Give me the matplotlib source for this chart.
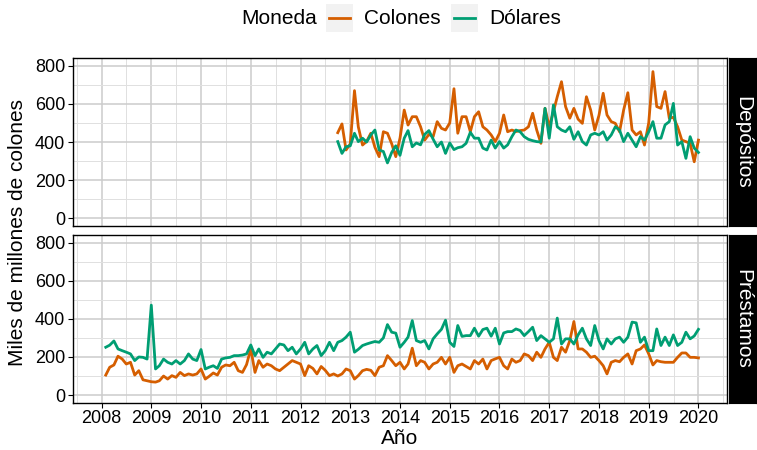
import numpy as np
import pandas as pd
import matplotlib
matplotlib.use("Agg")
import matplotlib.pyplot as plt
from matplotlib.patches import Rectangle
from matplotlib.lines import Line2D

plt.rcParams['font.family'] = ['Liberation Sans', 'DejaVu Sans']

# Datos mensuales (miles de millones de colones)
prestamos_colones = [
    105, 146, 158, 204, 189, 163, 172, 105, 128, 80,
    75, 70, 68, 75, 100, 84, 102, 93, 119, 102,
    111, 105, 111, 137, 84, 98, 116, 105, 146, 158,
    154, 172, 128, 119, 160, 242, 119, 181, 146, 163,
    154, 137, 128, 146, 163, 181, 172, 163, 102, 154,
    140, 111, 150, 130, 102, 111, 100, 111, 137, 128,
    84, 102, 128, 135, 130, 102, 146, 154, 207, 181,
    154, 172, 137, 163, 246, 154, 181, 172, 137, 163,
    172, 198, 163, 198, 119, 154, 163, 150, 137, 181,
    163, 189, 137, 181, 190, 198, 154, 137, 189, 172,
    181, 216, 207, 181, 225, 198, 242, 277, 198, 181,
    251, 225, 286, 386, 242, 242, 225, 198, 204, 181,
    154, 111, 172, 181, 175, 198, 216, 163, 233, 242,
    263, 216, 158, 181, 175, 172, 172, 172, 198, 221,
    221, 198, 198, 195]
prestamos_dolares = [
    251, 262, 284, 242, 233, 225, 216, 181, 200, 198,
    189, 472, 137, 154, 189, 172, 163, 181, 163, 181,
    216, 189, 181, 239, 137, 146, 154, 140, 189, 195,
    198, 207, 207, 210, 216, 263, 207, 242, 198, 225,
    216, 242, 268, 263, 233, 251, 216, 242, 277, 216,
    242, 260, 207, 233, 277, 233, 277, 286, 304, 330,
    225, 240, 260, 268, 275, 281, 277, 300, 370, 330,
    325, 251, 277, 304, 391, 286, 277, 286, 242, 295,
    321, 345, 393, 277, 255, 365, 308, 312, 312, 351,
    309, 344, 351, 309, 351, 268, 326, 333, 333, 347,
    339, 312, 333, 356, 286, 312, 295, 277, 295, 404,
    268, 295, 295, 268, 316, 351, 295, 260, 365, 286,
    242, 295, 268, 295, 304, 277, 304, 383, 379, 277,
    304, 233, 233, 347, 260, 304, 260, 316, 260, 277,
    330, 295, 310, 345]
depositos_colones = [
    449, 495, 358, 390, 670, 480, 384, 403, 446, 372,
    323, 454, 446, 391, 323, 420, 568, 489, 533, 533,
    480, 410, 440, 428, 507, 472, 463, 500, 680, 446,
    533, 533, 454, 533, 559, 480, 463, 437, 402, 446,
    542, 454, 463, 455, 460, 463, 480, 551, 463, 393,
    577, 480, 560, 638, 717, 586, 525, 577, 520, 498,
    638, 568, 463, 540, 656, 542, 507, 498, 454, 568,
    659, 463, 437, 454, 384, 500, 770, 586, 577, 665,
    525, 530, 480, 410, 402, 393, 296, 410]
depositos_dolares = [
    402, 340, 375, 380, 446, 402, 420, 400, 437, 463,
    358, 350, 290, 345, 380, 330, 420, 460, 375, 395,
    385, 440, 460, 415, 375, 400, 340, 395, 360, 370,
    375, 393, 451, 420, 420, 368, 358, 410, 368, 402,
    368, 385, 428, 463, 454, 428, 414, 407, 402, 400,
    577, 420, 595, 480, 463, 454, 480, 414, 454, 402,
    384, 437, 446, 437, 454, 410, 437, 480, 463, 402,
    446, 410, 375, 428, 410, 454, 507, 420, 420, 490,
    507, 603, 384, 402, 314, 428, 368, 345]

meses_prestamos = pd.date_range('2008-01-31', periods=len(prestamos_colones), freq='ME')
meses_depositos = pd.date_range('2012-09-30', periods=len(depositos_colones), freq='ME')


def a_decimal(fechas):
    dias = 365 + fechas.is_leap_year.astype(int)
    return np.asarray(fechas.year + fechas.dayofyear / dias)


col_colones = '#D55E00'
col_dolares = '#009E73'

fig = plt.figure(figsize=(7.57, 4.5), dpi=100)
W, H = 757, 450
x0, x1 = 72.7, 727.3
paneles = [(58.3, 225.7, 'Depósitos', meses_depositos, depositos_colones, depositos_dolares),
           (235.0, 402.7, 'Préstamos', meses_prestamos, prestamos_colones, prestamos_dolares)]

axes = []
for top, bot, nombre, meses, colones, dolares in paneles:
    ax = fig.add_axes([x0 / W, 1 - bot / H, (x1 - x0) / W, (bot - top) / H])
    xs = a_decimal(meses)
    ax.plot(xs, colones, color=col_colones, lw=2.0, solid_joinstyle='round')
    ax.plot(xs, dolares, color=col_dolares, lw=2.0, solid_joinstyle='round')
    ax.set_xlim(2007.42, 2020.58)
    ax.set_ylim(-40, 840)
    ax.set_yticks(range(0, 801, 200))
    ax.set_yticks(range(100, 800, 200), minor=True)
    ax.set_xticks(range(2008, 2021))
    ax.set_xticks(np.arange(2007.5, 2020.6, 1), minor=True)
    ax.grid(which='major', color='#cccccc', lw=1.1)
    ax.grid(which='minor', color='#e0e0e0', lw=0.7)
    ax.set_axisbelow(True)
    ax.tick_params(which='minor', length=0)
    ax.tick_params(which='major', length=3.5, width=0.8, color='black',
                   labelsize=13, labelcolor='black', pad=2)
    for s in ax.spines.values():
        s.set_color('black')
        s.set_linewidth(1.0)
    # tira de faceta
    sx = fig.add_axes([729 / W, 1 - bot / H, (756 - 729) / W, (bot - top) / H])
    sx.set_facecolor('black')
    sx.set_xticks([])
    sx.set_yticks([])
    for s in sx.spines.values():
        s.set_color('black')
    sx.text(0.5, 0.5, nombre, rotation=-90, color='white', fontsize=15,
            ha='center', va='center', transform=sx.transAxes)
    axes.append(ax)

axes[0].tick_params(axis='x', which='both', bottom=False, labelbottom=False)
axes[1].set_xlabel('Año', fontsize=15, labelpad=1)
fig.text(18 / W, 1 - 232 / H, 'Miles de millones de colones', rotation=90,
         fontsize=15, ha='center', va='center')

# leyenda superior
ly = 1 - 18 / H
fig.text(241 / W, ly, 'Moneda', fontsize=15, ha='left', va='center')
for kx, tx, etiqueta, c in [(326, 364, 'Colones', col_colones), (451, 489, 'Dólares', col_dolares)]:
    fig.add_artist(Rectangle((kx / W, 1 - 32 / H), 27 / W, 28 / H,
                             transform=fig.transFigure, facecolor='#f2f2f2', edgecolor='none'))
    fig.add_artist(Line2D([(kx + 3) / W, (kx + 24) / W], [ly, ly],
                          transform=fig.transFigure, color=c, lw=2.0))
    fig.text(tx / W, ly, etiqueta, fontsize=15, ha='left', va='center')

fig.savefig('out.png', dpi=100)
